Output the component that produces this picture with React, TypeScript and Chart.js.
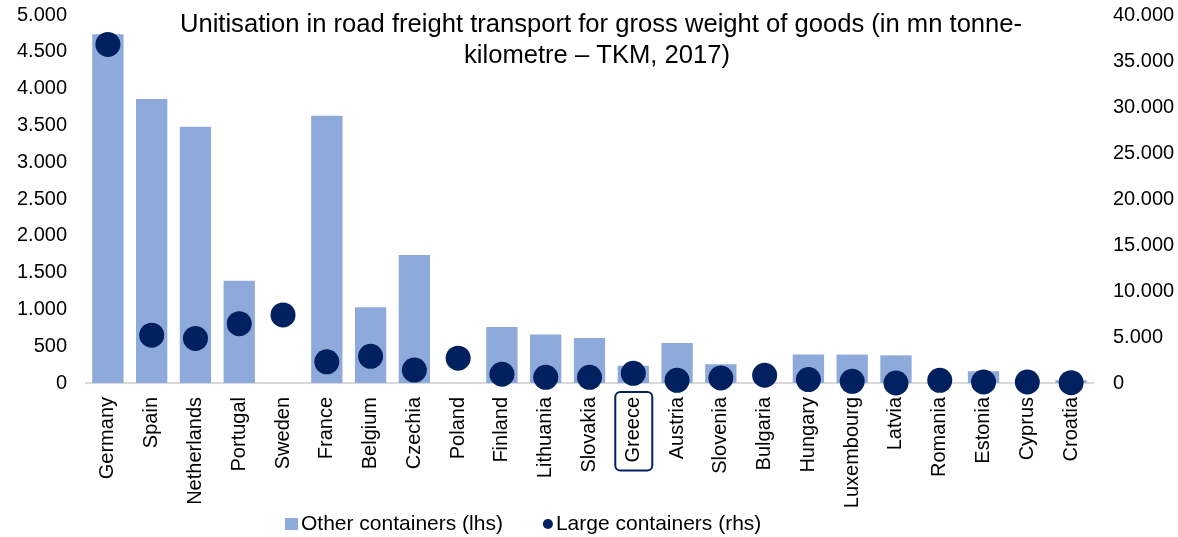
import React, { useEffect, useRef } from 'react';
import { Chart, registerables } from 'chart.js';

Chart.register(...registerables);

const countries = [
  'Germany', 'Spain', 'Netherlands', 'Portugal', 'Sweden', 'France', 'Belgium', 'Czechia',
  'Poland', 'Finland', 'Lithuania', 'Slovakia', 'Greece', 'Austria', 'Slovenia', 'Bulgaria',
  'Hungary', 'Luxembourg', 'Latvia', 'Romania', 'Estonia', 'Cyprus', 'Croatia',
];
const otherContainers = [
  4740, 3860, 3480, 1390, 0, 3630, 1030, 1740,
  0, 760, 660, 610, 235, 545, 255, 0,
  386, 386, 376, 0, 159, 0, 37,
];
const largeContainers = [
  36800, 5200, 4850, 6450, 7400, 2300, 2900, 1400,
  2700, 950, 620, 620, 1050, 290, 540, 840,
  370, 185, 0, 290, 110, 110, 40,
];
const seriesLabels = ['Other containers (lhs)', 'Large containers (rhs)'];
const titleLines = [
  'Unitisation in road freight transport for gross weight of goods (in mn tonne-',
  'kilometre – TKM, 2017)',
];
const leftAxis = { min: 0, max: 5000, step: 500 };
const rightAxis = { min: 0, max: 40000, step: 5000 };
const highlightedCountry = 'Greece';

const BAR_COLOR = '#8eaadb';
const DOT_COLOR = '#002060';
const FONT = '"Liberation Sans", Arial, sans-serif';

const fmt = (v: number | string) => String(v).replace(/\B(?=(\d{3})+(?!\d))/g, '.');

const overlayPlugin = {
  id: 'overlay',
  afterDraw(chart: any) {
    const ctx = chart.ctx;
    ctx.save();
    // Title
    ctx.fillStyle = '#000';
    ctx.font = `25.6px ${FONT}`;
    ctx.textAlign = 'center';
    ctx.textBaseline = 'alphabetic';
    ctx.fillText(titleLines[0], 601, 32);
    ctx.fillText(titleLines[1], 597, 63);

    // Highlight box around category label
    const xs = chart.scales.x;
    const idx = countries.indexOf(highlightedCountry);
    if (idx >= 0) {
      ctx.font = `20px ${FONT}`;
      const w = ctx.measureText(highlightedCountry).width;
      const cx = xs.getPixelForValue(idx);
      const top = chart.chartArea.bottom + 9;
      const h = w + 13;
      ctx.strokeStyle = DOT_COLOR;
      ctx.lineWidth = 2;
      ctx.beginPath();
      (ctx as any).roundRect(cx - 18, top, 37, h, 5);
      ctx.stroke();
    }

    // Legend
    ctx.font = `21px ${FONT}`;
    ctx.textAlign = 'left';
    ctx.textBaseline = 'middle';
    const ly = 524;
    let x = 285;
    ctx.fillStyle = BAR_COLOR;
    ctx.fillRect(x, ly - 6, 13, 12);
    ctx.fillStyle = '#000';
    ctx.fillText(seriesLabels[0], x + 16, ly);
    x = x + 16 + ctx.measureText(seriesLabels[0]).width;
    const cx2 = x + 45;
    ctx.fillStyle = DOT_COLOR;
    ctx.beginPath();
    ctx.arc(cx2, ly, 5, 0, Math.PI * 2);
    ctx.fill();
    ctx.fillStyle = '#000';
    ctx.fillText(seriesLabels[1], cx2 + 8, ly);
    ctx.restore();
  },
};

export default function App() {
  const ref = useRef<HTMLCanvasElement | null>(null);

  useEffect(() => {
    if (!ref.current) return;
    const chart = new Chart(ref.current, {
      type: 'bar',
      data: {
        labels: countries,
        datasets: [
          {
            type: 'line',
            label: seriesLabels[1],
            data: largeContainers,
            yAxisID: 'y1',
            showLine: false,
            pointRadius: 12.5,
            pointHoverRadius: 12.5,
            pointBorderWidth: 0,
            pointBackgroundColor: DOT_COLOR,
            pointBorderColor: DOT_COLOR,
            backgroundColor: DOT_COLOR,
            borderColor: DOT_COLOR,
            clip: false as any,
            order: 0,
          } as any,
          {
            type: 'bar',
            label: seriesLabels[0],
            data: otherContainers,
            yAxisID: 'y',
            backgroundColor: BAR_COLOR,
            borderWidth: 0,
            barPercentage: 0.715,
            categoryPercentage: 1,
            order: 1,
          } as any,
        ],
      },
      options: {
        responsive: false,
        animation: false,
        events: [],
        layout: { padding: { top: 15, left: 0, right: 0, bottom: 0 } },
        plugins: {
          legend: { display: false },
          title: { display: false },
          tooltip: { enabled: false },
        },
        scales: {
          x: {
            offset: true,
            grid: { display: false, drawTicks: false },
            border: { display: true, color: '#d9d9d9', width: 2 },
            ticks: {
              autoSkip: false,
              maxRotation: 90,
              minRotation: 90,
              padding: 14,
              color: '#000',
              font: { size: 20, family: FONT },
            },
            afterFit: (s: any) => {
              s.height = 154;
              s.paddingLeft = 0;
              s.paddingRight = 0;
            },
          },
          y: {
            position: 'left',
            min: leftAxis.min,
            max: leftAxis.max,
            grid: { display: false, drawTicks: false },
            border: { display: false },
            ticks: {
              stepSize: leftAxis.step,
              padding: 19,
              color: '#000',
              font: { size: 20, family: FONT },
              callback: (v: any) => fmt(v),
            },
            afterFit: (s: any) => {
              s.width = 86;
              s.paddingTop = 0;
              s.paddingBottom = 0;
            },
          },
          y1: {
            position: 'right',
            min: rightAxis.min,
            max: rightAxis.max,
            grid: { display: false, drawTicks: false },
            border: { display: false },
            ticks: {
              stepSize: rightAxis.step,
              padding: 20,
              color: '#000',
              font: { size: 20, family: FONT },
              callback: (v: any) => fmt(v),
            },
            afterFit: (s: any) => {
              s.width = 85;
              s.paddingTop = 0;
              s.paddingBottom = 0;
            },
          },
        },
      } as any,
      plugins: [overlayPlugin],
    });
    return () => chart.destroy();
  }, []);

  return (
    <div style={{ position: 'fixed', left: 0, top: 0, width: 1178, height: 537, background: '#fff' }}>
      <canvas ref={ref} width={1178} height={537} style={{ display: 'block' }} />
    </div>
  );
}
